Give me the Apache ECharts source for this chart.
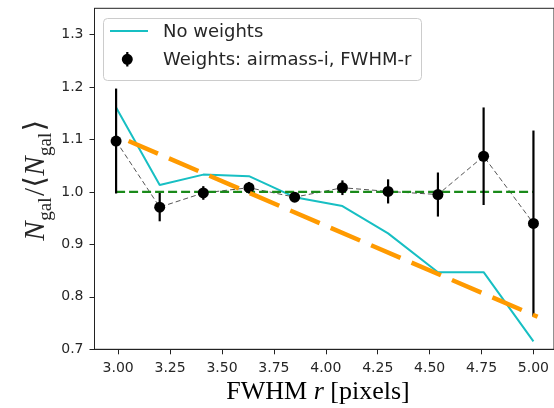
<!DOCTYPE html>
<html>
<head>
<meta charset="utf-8">
<script src="https://cdn.jsdelivr.net/npm/echarts@6/dist/echarts.min.js"></script>
<style>
  html, body { margin: 0; padding: 0; background: #ffffff; }
  #chart { width: 554px; height: 408px; }
</style>
</head>
<body>
<div id="chart"></div>
<script>
// Galaxy counts per FWHM-r bin, normalised by the mean count
const fwhmBins    = [2.99, 3.20, 3.41, 3.63, 3.85, 4.08, 4.30, 4.54, 4.76, 5.00];
const noWeights   = [1.161, 1.013, 1.033, 1.030, 0.990, 0.973, 0.921, 0.847, 0.847, 0.715];
const weighted    = [1.097, 0.971, 0.998, 1.008, 0.990, 1.008, 1.001, 0.995, 1.068, 0.940];
const weightedErr = [0.100, 0.027, 0.013, 0.011, 0.008, 0.014, 0.023, 0.042, 0.093, 0.177];

// Unity reference line and the linear trend of the unweighted counts
const unityX = [2.99, 5.00];
const unityY = [1.0, 1.0];
const fitX   = [3.05, 5.02];
const fitY   = [1.097, 0.762];

// Axis ticks
const xTicks = [3.00, 3.25, 3.50, 3.75, 4.00, 4.25, 4.50, 4.75, 5.00];
const yTicks = [0.7, 0.8, 0.9, 1.0, 1.1, 1.2, 1.3];

const zip = (...cols) => cols[0].map((_, i) => cols.map(c => c[i]));

const TICK_FONT = '"DejaVu Sans", sans-serif';
const MATH_FONT = '"Liberation Serif", "DejaVu Serif", serif';
const INK = '#262626';
const CYAN = '#17bfc3';

// Rotated y-axis title: N_gal / <N_gal>, laid out piece by piece
const measureCtx = document.createElement('canvas').getContext('2d');
function textWidth(str, font) { measureCtx.font = font; return measureCtx.measureText(str).width; }

function buildYTitle() {
  const big = 29, small = 19, subShift = 6.5;
  const pieces = [
    { t: 'N',   size: big,   italic: true,  sub: false },
    { t: 'gal', size: small, italic: false, sub: true  },
    { t: '/',   size: big,   italic: false, sub: false },
    { t: '\u27E8', size: big, italic: false, sub: false },
    { t: 'N',   size: big,   italic: true,  sub: false },
    { t: 'gal', size: small, italic: false, sub: true  },
    { t: '\u27E9', size: big, italic: false, sub: false }
  ];
  let cursor = 0;
  const placed = pieces.map(p => {
    const font = (p.italic ? 'italic ' : '') + p.size + 'px ' + MATH_FONT;
    const wdt = textWidth(p.t, font);
    const item = { p, x: cursor };
    cursor += wdt + (p.sub ? 1.5 : 0.5);
    return item;
  });
  const total = cursor;
  return {
    type: 'group',
    x: 46, y: 180,
    rotation: Math.PI / 2,
    children: placed.map(it => ({
      type: 'text',
      x: it.x - total / 2,
      y: (it.p.sub ? subShift : 0) - 0.34 * it.p.size,
      style: {
        text: it.p.t,
        fontFamily: MATH_FONT,
        fontSize: it.p.size,
        fontStyle: it.p.italic ? 'italic' : 'normal',
        fill: INK,
        align: 'left',
        verticalAlign: 'middle'
      }
    }))
  };
}

const chart = echarts.init(document.getElementById('chart'), null, { renderer: 'canvas' });

const axisCommon = {
  type: 'value',
  splitLine: { show: false },
  axisLine: { show: true, onZero: false, lineStyle: { color: '#222', width: 1 } },
  axisTick: { show: true, length: 5, inside: false, lineStyle: { color: '#222', width: 1 } }
};

chart.setOption({
  animation: false,
  backgroundColor: '#ffffff',
  grid: {
    left: 94.5, top: 8.3, width: 463, height: 341,
    show: true, borderColor: '#222', borderWidth: 1, backgroundColor: 'transparent'
  },
  xAxis: Object.assign({}, axisCommon, {
    min: 2.886, max: 5.099,
    axisTick: Object.assign({}, axisCommon.axisTick, { customValues: xTicks }),
    axisLabel: {
      customValues: xTicks, formatter: v => v.toFixed(2),
      fontFamily: TICK_FONT, fontSize: 14, color: INK, margin: 12
    }
  }),
  yAxis: Object.assign({}, axisCommon, {
    min: 0.7, max: 1.35,
    axisTick: Object.assign({}, axisCommon.axisTick, { customValues: yTicks }),
    axisLabel: {
      customValues: yTicks, formatter: v => v.toFixed(1),
      fontFamily: TICK_FONT, fontSize: 14, color: INK, margin: 11
    }
  }),
  series: [
    {
      name: 'No weights', type: 'line', z: 2,
      data: zip(fwhmBins, noWeights), symbol: 'none',
      lineStyle: { color: CYAN, width: 2 }
    },
    {
      name: 'weighted-link', type: 'line', z: 3,
      data: zip(fwhmBins, weighted), symbol: 'none',
      lineStyle: { color: '#555', width: 1, type: [5, 3] }
    },
    {
      name: 'unity', type: 'line', z: 4,
      data: zip(unityX, unityY), symbol: 'none',
      lineStyle: { color: '#1a8a1a', width: 2.2, type: [9, 4] }
    },
    {
      name: 'errors', type: 'custom', z: 5,
      data: zip(fwhmBins, weighted, weightedErr),
      renderItem: (params, api) => {
        const x = api.value(0), y = api.value(1), e = api.value(2);
        const top = api.coord([x, y + e]);
        const bot = api.coord([x, y - e]);
        return {
          type: 'line',
          shape: { x1: top[0], y1: top[1], x2: bot[0], y2: bot[1] },
          style: { stroke: '#000', lineWidth: 2.2 }
        };
      }
    },
    {
      name: 'Weights: airmass-i, FWHM-r', type: 'scatter', z: 6,
      data: zip(fwhmBins, weighted), symbol: 'circle', symbolSize: 11,
      itemStyle: { color: '#000', opacity: 1 }
    },
    {
      name: 'trend', type: 'line', z: 7,
      data: zip(fitX, fitY), symbol: 'none',
      lineStyle: { color: '#ff9a00', width: 4.5, type: [32, 12] }
    }
  ],
  graphic: [
    // legend frame and entries
    {
      type: 'rect', z: 100,
      shape: { x: 103.5, y: 18.5, width: 318, height: 62, r: 4 },
      style: { fill: 'rgba(255,255,255,0.85)', stroke: '#cccccc', lineWidth: 1 }
    },
    {
      type: 'line', z: 101,
      shape: { x1: 110, y1: 31, x2: 148, y2: 31 },
      style: { stroke: CYAN, lineWidth: 2 }
    },
    {
      type: 'line', z: 101,
      shape: { x1: 127.3, y1: 52, x2: 127.3, y2: 66.5 },
      style: { stroke: '#000', lineWidth: 2.2 }
    },
    {
      type: 'circle', z: 101,
      shape: { cx: 127.3, cy: 59.3, r: 5.5 },
      style: { fill: '#000' }
    },
    {
      type: 'text', z: 101, x: 163, y: 32,
      style: { text: 'No weights', fontFamily: TICK_FONT, fontSize: 18, fill: INK, align: 'left', verticalAlign: 'middle' }
    },
    {
      type: 'text', z: 101, x: 163, y: 60,
      style: { text: 'Weights: airmass-i, FWHM-r', fontFamily: TICK_FONT, fontSize: 18, fill: INK, align: 'left', verticalAlign: 'middle' }
    },
    // x-axis title
    {
      type: 'text', z: 50, x: 318, y: 392,
      style: {
        text: '{a|FWHM }{b|r}{a| [pixels]}',
        align: 'center', verticalAlign: 'middle',
        rich: {
          a: { fontFamily: MATH_FONT, fontSize: 26, color: INK },
          b: { fontFamily: MATH_FONT, fontSize: 26, fontStyle: 'italic', color: INK }
        }
      }
    },
    // y-axis title
    buildYTitle()
  ]
});
</script>
</body>
</html>
